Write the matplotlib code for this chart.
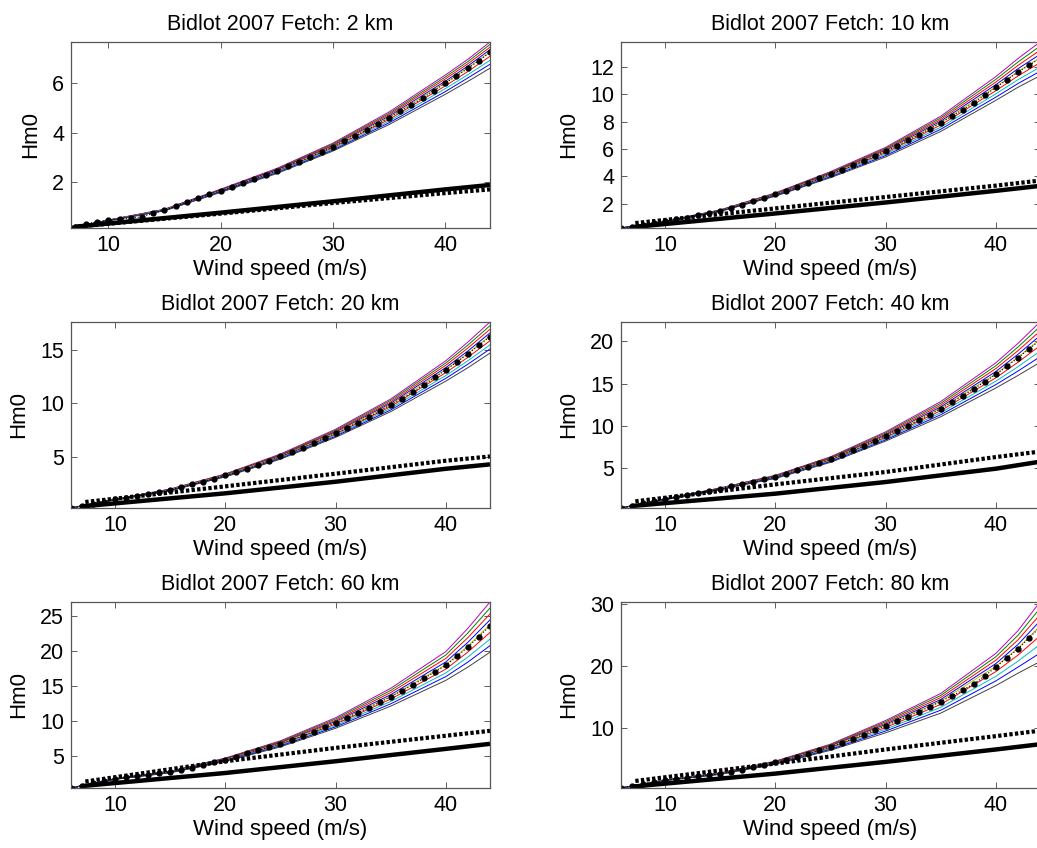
# bidlot_fetch.py - Hm0 vs wind speed, Bidlot 2007 source term, six fetches

import matplotlib
import matplotlib.pyplot as plt

matplotlib.use("Agg")

plt.rcParams["font.family"] = ["Liberation Sans", "DejaVu Sans"]

# ── 1. Data ──────────────────────────────────────────────────────────────────

FETCH_KM = [2, 10, 20, 40, 60, 80]
X_START = [6.67, 6, 6, 6, 6, 6]          # first wind speed of the runs

# ensemble runs are given at these wind speeds (after the start point)
RUN_WIND = [10, 15, 20, 25, 30, 35, 40, 42, 44]

RUNS_2KM = [
    [0.14, 0.46, 0.90, 1.71, 2.55, 3.57, 4.83, 6.32, 6.95, 7.66],
    [0.14, 0.46, 0.89, 1.69, 2.52, 3.54, 4.77, 6.24, 6.86, 7.56],
    [0.14, 0.46, 0.88, 1.68, 2.50, 3.50, 4.72, 6.16, 6.77, 7.45],
    [0.14, 0.45, 0.88, 1.67, 2.48, 3.46, 4.66, 6.07, 6.68, 7.35],
    [0.14, 0.45, 0.87, 1.65, 2.45, 3.43, 4.61, 6.01, 6.61, 7.26],
    [0.14, 0.45, 0.86, 1.63, 2.42, 3.38, 4.53, 5.88, 6.46, 7.08],
    [0.14, 0.44, 0.85, 1.62, 2.40, 3.33, 4.46, 5.77, 6.33, 6.92],
    [0.14, 0.44, 0.84, 1.60, 2.37, 3.29, 4.39, 5.65, 6.20, 6.76],
    [0.14, 0.43, 0.84, 1.58, 2.34, 3.25, 4.32, 5.54, 6.06, 6.60],
]
RUNS_10KM = [
    [0.24, 0.74, 1.56, 2.80, 4.35, 6.12, 8.39, 11.28, 12.59, 13.80],
    [0.24, 0.74, 1.55, 2.77, 4.30, 6.05, 8.27, 11.08, 12.34, 13.50],
    [0.24, 0.73, 1.54, 2.74, 4.25, 5.98, 8.15, 10.88, 12.09, 13.20],
    [0.24, 0.73, 1.52, 2.72, 4.21, 5.90, 8.03, 10.69, 11.85, 12.90],
    [0.24, 0.72, 1.51, 2.70, 4.17, 5.84, 7.93, 10.53, 11.65, 12.66],
    [0.24, 0.71, 1.50, 2.66, 4.10, 5.73, 7.75, 10.25, 11.32, 12.29],
    [0.24, 0.71, 1.48, 2.62, 4.04, 5.63, 7.59, 10.02, 11.05, 11.97],
    [0.24, 0.70, 1.47, 2.59, 3.97, 5.52, 7.44, 9.78, 10.77, 11.66],
    [0.24, 0.70, 1.45, 2.56, 3.91, 5.42, 7.28, 9.55, 10.50, 11.34],
]
RUNS_20KM = [
    [0.25, 1.08, 2.02, 3.43, 5.29, 7.60, 10.42, 13.99, 15.73, 17.60],
    [0.25, 1.07, 2.00, 3.40, 5.23, 7.51, 10.29, 13.78, 15.45, 17.26],
    [0.25, 1.07, 1.98, 3.37, 5.17, 7.42, 10.15, 13.57, 15.18, 16.92],
    [0.25, 1.06, 1.97, 3.33, 5.12, 7.33, 10.02, 13.35, 14.90, 16.58],
    [0.25, 1.05, 1.95, 3.31, 5.07, 7.26, 9.91, 13.18, 14.68, 16.31],
    [0.25, 1.04, 1.93, 3.26, 5.00, 7.14, 9.72, 12.88, 14.31, 15.85],
    [0.25, 1.03, 1.91, 3.23, 4.93, 7.04, 9.56, 12.61, 13.99, 15.47],
    [0.25, 1.03, 1.89, 3.19, 4.87, 6.94, 9.40, 12.35, 13.67, 15.08],
    [0.25, 1.02, 1.87, 3.15, 4.81, 6.84, 9.24, 12.09, 13.34, 14.70],
]
RUNS_40KM = [
    [0.26, 1.34, 2.64, 4.14, 6.33, 9.29, 12.88, 17.47, 19.77, 22.31],
    [0.26, 1.33, 2.62, 4.09, 6.26, 9.16, 12.67, 17.13, 19.34, 21.77],
    [0.26, 1.32, 2.60, 4.05, 6.18, 9.02, 12.46, 16.79, 18.91, 21.23],
    [0.26, 1.31, 2.57, 4.01, 6.11, 8.89, 12.25, 16.44, 18.48, 20.69],
    [0.26, 1.30, 2.55, 3.97, 6.05, 8.79, 12.08, 16.17, 18.14, 20.26],
    [0.26, 1.29, 2.52, 3.91, 5.94, 8.62, 11.80, 15.70, 17.53, 19.50],
    [0.26, 1.28, 2.50, 3.86, 5.85, 8.48, 11.56, 15.30, 17.01, 18.84],
    [0.26, 1.27, 2.47, 3.81, 5.76, 8.33, 11.32, 14.89, 16.49, 18.19],
    [0.26, 1.26, 2.45, 3.76, 5.67, 8.19, 11.08, 14.49, 15.97, 17.53],
]
RUNS_60KM = [
    [0.37, 1.71, 2.78, 4.66, 7.13, 10.43, 14.64, 19.90, 23.23, 26.99],
    [0.37, 1.70, 2.75, 4.61, 7.03, 10.25, 14.34, 19.41, 22.57, 26.13],
    [0.37, 1.69, 2.72, 4.55, 6.93, 10.06, 14.04, 18.92, 21.90, 25.28],
    [0.37, 1.67, 2.70, 4.50, 6.83, 9.88, 13.73, 18.42, 21.23, 24.43],
    [0.37, 1.66, 2.68, 4.45, 6.75, 9.74, 13.49, 18.03, 20.69, 23.74],
    [0.37, 1.65, 2.64, 4.37, 6.61, 9.51, 13.09, 17.39, 19.84, 22.63],
    [0.37, 1.64, 2.61, 4.31, 6.49, 9.31, 12.76, 16.85, 19.12, 21.68],
    [0.37, 1.62, 2.58, 4.24, 6.38, 9.12, 12.42, 16.32, 18.40, 20.74],
    [0.37, 1.61, 2.55, 4.17, 6.26, 8.92, 12.09, 15.78, 17.68, 19.80],
]
RUNS_80KM = [
    [0.43, 1.72, 2.85, 4.75, 7.46, 11.26, 15.59, 22.02, 25.65, 30.26],
    [0.43, 1.71, 2.82, 4.69, 7.36, 11.06, 15.27, 21.48, 24.91, 29.25],
    [0.43, 1.70, 2.80, 4.63, 7.25, 10.85, 14.94, 20.93, 24.18, 28.23],
    [0.43, 1.68, 2.77, 4.58, 7.15, 10.64, 14.62, 20.39, 23.44, 27.22],
    [0.43, 1.67, 2.75, 4.53, 7.06, 10.47, 14.36, 19.95, 22.85, 26.40],
    [0.43, 1.66, 2.71, 4.45, 6.90, 10.14, 13.84, 19.10, 21.74, 24.82],
    [0.43, 1.65, 2.68, 4.38, 6.76, 9.86, 13.37, 18.35, 20.77, 23.45],
    [0.43, 1.63, 2.65, 4.32, 6.62, 9.57, 12.91, 17.61, 19.81, 22.07],
    [0.43, 1.62, 2.62, 4.25, 6.48, 9.28, 12.44, 16.86, 18.84, 20.70],
]

# ensemble mean (dotted black), one value per integer wind speed 7..44
MEAN_WIND = list(range(7, 45))
MEAN_2KM = [0.2, 0.3, 0.4, 0.45, 0.5, 0.53, 0.6, 0.73, 0.87, 1.02, 1.2, 1.35,
            1.5, 1.65, 1.78, 1.95, 2.12, 2.28, 2.45, 2.66, 2.82, 3.02, 3.22,
            3.42, 3.65, 3.87, 4.1, 4.34, 4.6, 4.87, 5.11, 5.4, 5.69, 5.99,
            6.28, 6.59, 6.9, 7.24]
MEAN_10KM = [0.33, 0.45, 0.58, 0.72, 0.86, 1.0, 1.16, 1.33, 1.51, 1.72, 1.95,
             2.18, 2.43, 2.69, 2.97, 3.25, 3.54, 3.85, 4.16, 4.48, 4.8, 5.13,
             5.47, 5.83, 6.22, 6.62, 7.03, 7.46, 7.91, 8.38, 8.87, 9.38, 9.92,
             10.49, 11.04, 11.6, 12.1, 12.6]
MEAN_20KM = [0.45, 0.65, 0.85, 1.05, 1.22, 1.4, 1.57, 1.76, 1.95, 2.18, 2.45,
             2.72, 3.0, 3.3, 3.6, 3.9, 4.27, 4.66, 5.06, 5.47, 5.88, 6.3, 6.76,
             7.24, 7.72, 8.22, 8.73, 9.29, 9.88, 10.46, 11.06, 11.74, 12.43,
             13.14, 13.87, 14.63, 15.42, 16.24]
MEAN_40KM = [0.55, 0.82, 1.07, 1.3, 1.53, 1.77, 2.02, 2.28, 2.55, 2.82, 3.1,
             3.38, 3.66, 3.96, 4.34, 4.74, 5.15, 5.58, 6.03, 6.55, 7.08, 7.62,
             8.18, 8.76, 9.38, 10.0, 10.66, 11.34, 12.04, 12.8, 13.58, 14.38,
             15.22, 16.1, 17.05, 18.05, 19.1, 20.15]
MEAN_60KM = [0.7, 1.03, 1.36, 1.66, 1.88, 2.08, 2.28, 2.47, 2.67, 2.95, 3.27,
             3.62, 4.02, 4.44, 4.87, 5.31, 5.77, 6.24, 6.73, 7.28, 7.85, 8.44,
             9.06, 9.7, 10.4, 11.12, 11.86, 12.63, 13.43, 14.28, 15.15, 16.05,
             16.98, 17.93, 19.2, 20.56, 22.05, 23.57]
MEAN_80KM = [0.75, 1.08, 1.38, 1.67, 1.88, 2.08, 2.3, 2.52, 2.74, 3.05, 3.38,
             3.74, 4.12, 4.52, 4.98, 5.46, 5.96, 6.49, 7.04, 7.66, 8.31, 8.99,
             9.7, 10.43, 11.15, 11.88, 12.66, 13.46, 14.3, 15.2, 16.15, 17.15,
             18.4, 19.84, 21.3, 22.7, 24.5, 26.2]

# the two thick black reference curves (solid and square-dotted)
SOLID_WIND = [7, 20, 30, 40, 44]
SOLID_HM0 = [
    [0.19, 0.76, 1.22, 1.70, 1.88],
    [0.30, 1.30, 2.10, 2.95, 3.31],
    [0.40, 1.62, 2.70, 3.91, 4.32],
    [0.50, 1.96, 3.34, 4.92, 5.75],
    [0.65, 2.52, 4.20, 5.97, 6.69],
    [0.65, 2.74, 4.62, 6.61, 7.45],
]
DOTTED_WIND = [7.3, 20, 30, 40, 44]
DOTTED_HM0 = [
    [0.20, 0.72, 1.15, 1.55, 1.70],
    [0.60, 1.67, 2.50, 3.33, 3.70],
    [0.81, 2.27, 3.45, 4.66, 5.06],
    [1.05, 3.06, 4.53, 6.30, 6.95],
    [1.30, 4.20, 6.11, 7.85, 8.55],
    [1.56, 4.35, 6.61, 8.75, 9.62],
]

Y_TICKS = [[2, 4, 6], [2, 4, 6, 8, 10, 12], [5, 10, 15], [5, 10, 15, 20],
           [5, 10, 15, 20, 25], [10, 20, 30]]
X_TICKS = [10, 20, 30, 40]

RUNS = [RUNS_2KM, RUNS_10KM, RUNS_20KM, RUNS_40KM, RUNS_60KM, RUNS_80KM]
MEANS = [MEAN_2KM, MEAN_10KM, MEAN_20KM, MEAN_40KM, MEAN_60KM, MEAN_80KM]

# old MATLAB line colour order
RUN_COLORS = [(0.75, 0, 0.75), (0, 0.5, 0), (1, 0, 0), (0, 0, 1),
              (0.75, 0.75, 0), (1, 0, 0), (0, 0.75, 0.75), (0, 0, 1),
              (0.25, 0.25, 0.25)]

# ── 2. Figure layout (pixel boxes of the six axes) ────────────────────────────

W, H = 1037, 848
fig = plt.figure(figsize=(W / 100, H / 100), dpi=100)

COL_LEFT = [71, 621]
ROW_BOTTOM = [228, 508, 788]
AX_W, AX_H = 419, 186

for i, fetch in enumerate(FETCH_KM):
    row, col = divmod(i, 2)
    ax = fig.add_axes([COL_LEFT[col] / W, 1 - ROW_BOTTOM[row] / H,
                       AX_W / W, AX_H / H])

    run_x = [X_START[i]] + RUN_WIND
    for run, color in zip(RUNS[i], RUN_COLORS):
        ax.plot(run_x, run, color=color, lw=0.7)

    ax.plot(SOLID_WIND, SOLID_HM0[i], color="black", lw=3.2,
            solid_capstyle="butt")
    ax.plot(DOTTED_WIND, DOTTED_HM0[i], color="black", lw=3.0,
            dashes=(0.8, 0.55), dash_capstyle="butt")

    mean_x = [X_START[i]] + MEAN_WIND
    mean_y = [RUNS[i][0][0]] + MEANS[i]
    ax.plot(mean_x, mean_y, color="black", ls=":", lw=0.8,
            marker=".", ms=7)

    # MATLAB "axis tight"
    all_y = [v for run in RUNS[i] for v in run]
    ax.set_xlim(X_START[i], 44)
    ax.set_ylim(min(all_y), max(all_y))

    ax.set_xticks(X_TICKS)
    ax.set_yticks(Y_TICKS[i])
    ax.tick_params(direction="in", length=4, width=0.6, color="#444444",
                   top=True, right=True, labelsize=15.5, pad=5)
    for spine in ax.spines.values():
        spine.set_color("#555555")
        spine.set_linewidth(0.9)

    ax.set_title(f"Bidlot 2007 Fetch: {fetch} km", fontsize=15.5, pad=9)
    ax.set_xlabel("Wind speed (m/s)", fontsize=16, labelpad=2)
    ax.set_ylabel("Hm0", fontsize=16, labelpad=8)

fig.savefig("out.png", dpi=100)
